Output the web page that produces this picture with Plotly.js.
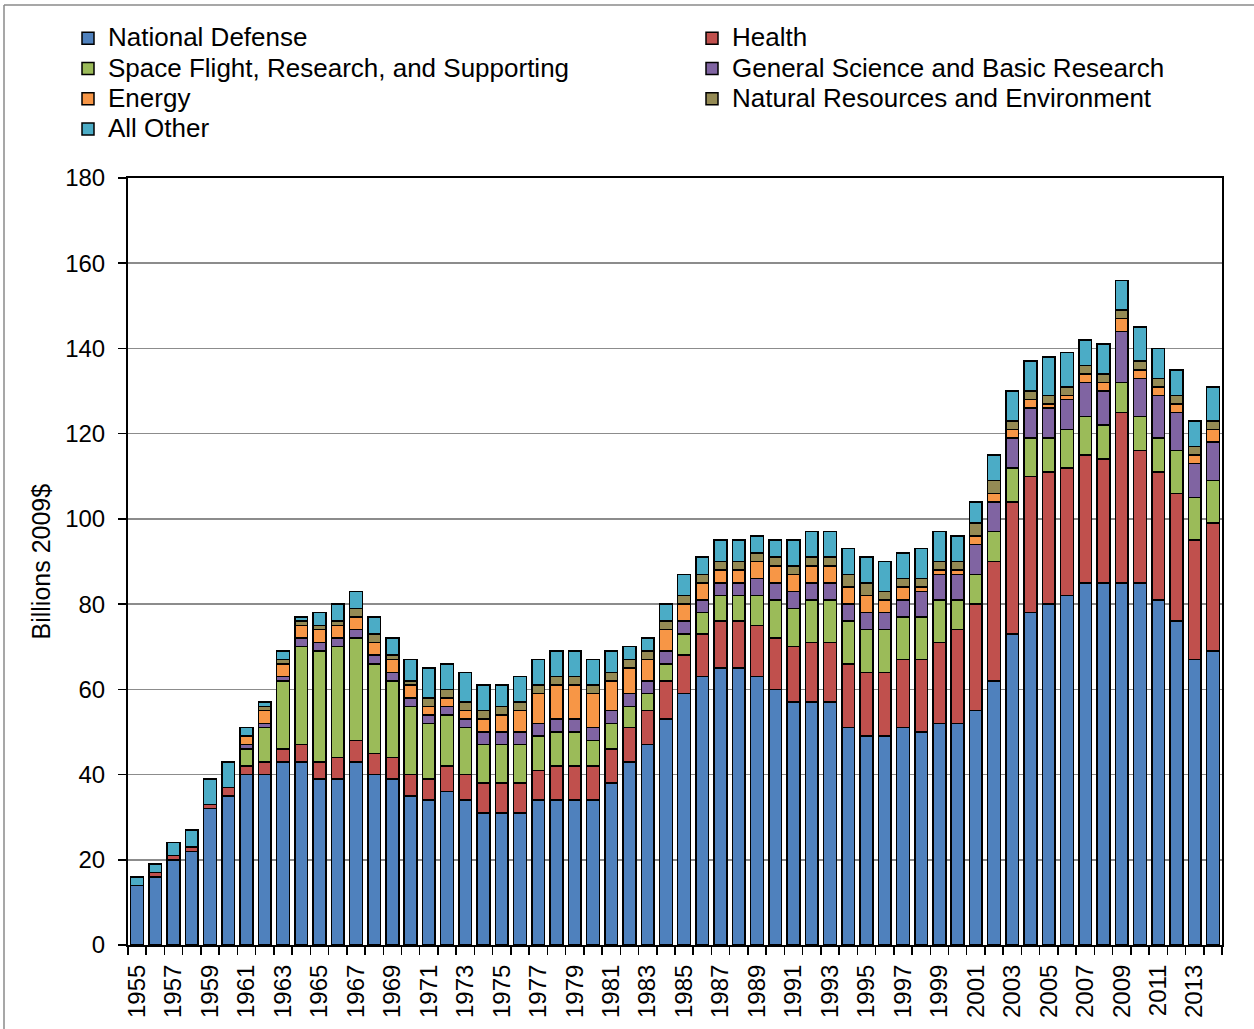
<!DOCTYPE html>
<html>
<head>
<meta charset="utf-8">
<script src="https://cdn.plot.ly/plotly-3.0.1.min.js"></script>
<style>
  html, body { margin: 0; padding: 0; background: #fff; }
  #chart { width: 1254px; height: 1029px; }
</style>
</head>
<body>
<div id="chart"></div>
<script>
// Fiscal years
const years = [1955,1956,1957,1958,1959,1960,1961,1962,1963,1964,
  1965,1966,1967,1968,1969,1970,1971,1972,1973,1974,
  1975,1976,1977,1978,1979,1980,1981,1982,1983,1984,
  1985,1986,1987,1988,1989,1990,1991,1992,1993,1994,
  1995,1996,1997,1998,1999,2000,2001,2002,2003,2004,
  2005,2006,2007,2008,2009,2010,2011,2012,2013,2014];

// Billions of 2009 dollars, by budget function
const nationalDefense = [14,16,20,22,32,35,40,40,43,43,
  39,39,43,40,39,35,34,36,34,31,
  31,31,34,34,34,34,38,43,47,53,
  59,63,65,65,63,60,57,57,57,51,
  49,49,51,50,52,52,55,62,73,78,
  80,82,85,85,85,85,81,76,67,69];
const health = [0,1,1,1,1,2,2,3,3,4,
  4,5,5,5,5,5,5,6,6,7,
  7,7,7,8,8,8,8,8,8,9,
  9,10,11,11,12,12,13,14,14,15,
  15,15,16,17,19,22,25,28,31,32,
  31,30,30,29,40,31,30,30,28,30];
const spaceFlight = [0,0,0,0,0,0,4,8,16,23,
  26,26,24,21,18,16,13,12,11,9,
  9,9,8,8,8,6,6,5,4,4,
  5,5,6,6,7,9,9,10,10,10,
  10,10,10,10,10,7,7,7,8,9,
  8,9,9,8,7,8,8,10,10,10];
const generalScience = [0,0,0,0,0,0,1,1,1,2,
  2,2,2,2,2,2,2,2,2,3,
  3,3,3,3,3,3,3,3,3,3,
  3,3,3,3,4,4,4,4,4,4,
  4,4,4,6,6,6,7,7,7,7,
  7,7,8,8,12,9,10,9,8,9];
const energy = [0,0,0,0,0,0,2,3,3,3,
  3,3,3,3,3,3,2,2,2,3,
  4,5,7,8,8,8,7,6,5,5,
  4,4,3,3,4,4,4,4,4,4,
  4,3,3,1,1,1,2,2,2,2,
  1,1,2,2,3,2,2,2,2,3];
const naturalResources = [0,0,0,0,0,0,0,1,1,1,
  1,1,2,2,1,1,2,2,2,2,
  2,2,2,2,2,2,2,2,2,2,
  2,2,2,2,2,2,2,2,2,3,
  3,2,2,2,2,2,3,3,2,2,
  2,2,2,2,2,2,2,2,2,2];
const allOther = [2,2,3,4,6,6,2,1,2,1,
  3,4,4,4,4,5,7,6,7,6,
  5,6,6,6,6,6,5,3,3,4,
  5,4,5,5,4,4,6,6,6,6,
  6,7,6,7,7,6,5,6,7,7,
  9,8,6,7,7,8,7,6,6,8];

const seriesNames = ["National Defense","Health","Space Flight, Research, and Supporting",
  "General Science and Basic Research","Energy","Natural Resources and Environment","All Other"];
const seriesColors = ["#4F81BD","#C0504D","#9BBB59","#8064A2","#F79646","#948A54","#4BACC6"];
const seriesValues = [nationalDefense, health, spaceFlight, generalScience, energy, naturalResources, allOther];
const seriesLegend = ["legend","legend2","legend","legend2","legend","legend2","legend"];

const labelYears = years.filter((y, i) => i % 2 === 0);
const boundaryTicks = years.map(y => y - 0.5).concat([years[years.length - 1] + 0.5]);

const FONT = "Liberation Sans, Arial, sans-serif";

const traces = seriesValues.map((vals, i) => ({
  type: "bar",
  x: years,
  y: vals,
  name: '<span style="font-size:26px">' + seriesNames[i] + '</span>',
  legend: seriesLegend[i],
  marker: { color: seriesColors[i], line: { color: "#000", width: 1.5 } },
  hoverinfo: "x+y+name"
}));

const legendCommon = {
  orientation: "v",
  traceorder: "normal",
  xref: "container", yref: "container",
  xanchor: "left", yanchor: "top",
  font: { family: FONT, size: 21, color: "#000" },
  bgcolor: "rgba(0,0,0,0)",
  borderwidth: 0,
  tracegroupgap: 0,
  itemwidth: 30
};

const layout = {
  width: 1254, height: 1029,
  paper_bgcolor: "#fff", plot_bgcolor: "#fff",
  margin: { l: 128, r: 32, t: 178, b: 84, autoexpand: false },
  barmode: "stack",
  bargap: 0.3,
  showlegend: true,
  legend: Object.assign({}, legendCommon, { x: 68/1254, y: 1 - 18/1029 }),
  legend2: Object.assign({}, legendCommon, { x: 692/1254, y: 1 - 18/1029 }),
  font: { family: FONT, size: 24, color: "#000" },
  xaxis: {
    type: "linear",
    range: [years[0] - 0.5, years[years.length - 1] + 0.5],
    tickmode: "array",
    tickvals: labelYears,
    ticktext: labelYears.map(String),
    tickangle: -90,
    ticks: "outside", ticklen: 8, tickcolor: "rgba(0,0,0,0)",
    tickfont: { family: FONT, size: 24, color: "#000" },
    minor: { tickmode: "array", tickvals: boundaryTicks, ticks: "outside", ticklen: 8, tickcolor: "#000", tickwidth: 1.5, showgrid: false },
    showline: true, linecolor: "#000", linewidth: 2, mirror: true,
    showgrid: false, zeroline: false, fixedrange: true, automargin: false
  },
  yaxis: {
    range: [0, 180],
    tickmode: "linear", tick0: 0, dtick: 20,
    ticks: "outside", ticklen: 8, tickcolor: "#000", tickwidth: 1.5,
    ticklabelstandoff: 8,
    tickfont: { family: FONT, size: 24, color: "#000" },
    showline: true, linecolor: "#000", linewidth: 2, mirror: true,
    showgrid: true, gridcolor: "#8c8c8c", gridwidth: 1.5,
    zeroline: false,
    automargin: false, fixedrange: true
  },
  annotations: [
    { text: "Billions 2009$", xref: "paper", yref: "paper", x: (40-128)/1094, y: 0.5,
      xanchor: "center", yanchor: "middle", textangle: -90, showarrow: false,
      font: { family: FONT, size: 25, color: "#000" } }
  ],
  shapes: [
    { type: "line", xref: "paper", yref: "paper", x0: (4-128)/1094, x1: (1260-128)/1094, y0: (945-5)/767, y1: (945-5)/767, line: { color: "#8a8a8a", width: 1.5 } },
    { type: "line", xref: "paper", yref: "paper", x0: (4-128)/1094, x1: (4-128)/1094, y0: (945-5)/767, y1: (945-1035)/767, line: { color: "#8a8a8a", width: 1.5 } }
  ]
};

Plotly.newPlot("chart", traces, layout, { displayModeBar: false, staticPlot: true });
</script>
</body>
</html>
